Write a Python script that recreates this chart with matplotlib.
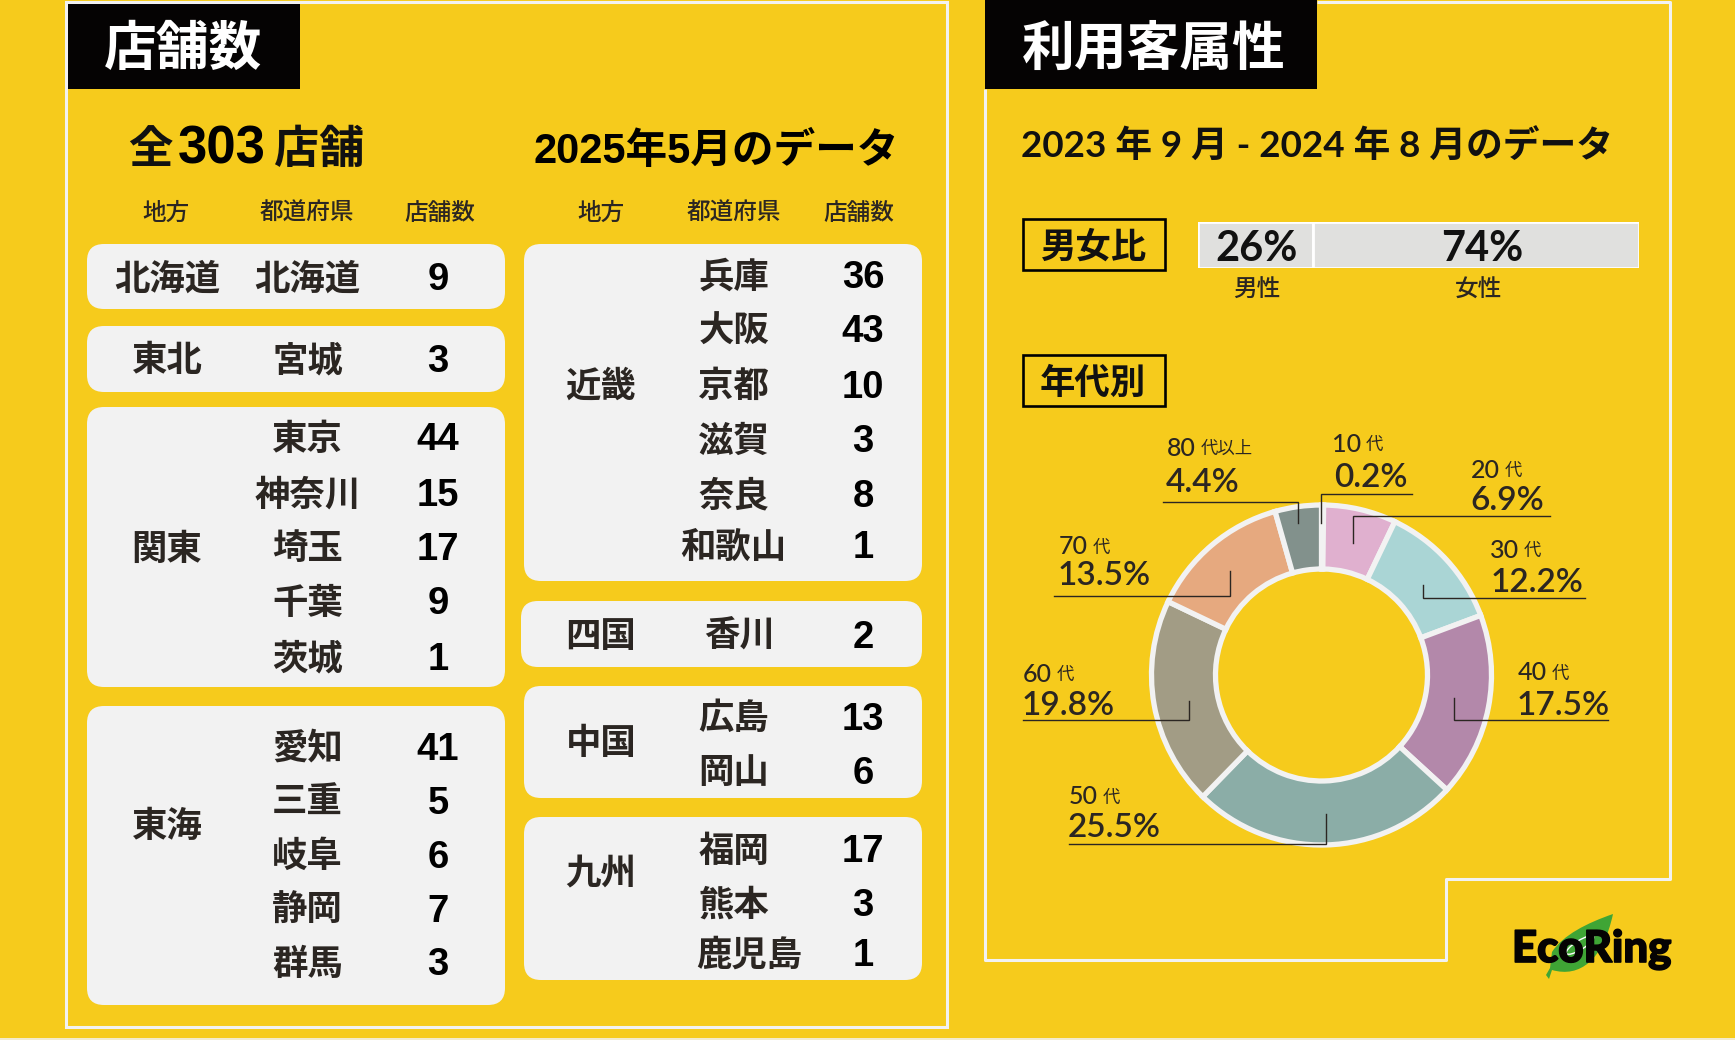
import matplotlib
matplotlib.use('Agg')
import matplotlib.pyplot as plt
import matplotlib.patheffects as pe
from matplotlib.patches import FancyBboxPatch, Rectangle, PathPatch, Ellipse
from matplotlib.path import Path

W, H = 1735, 1040
YELLOW = '#F6CB1C'
CARD = '#F2F2F2'
INK = '#2B2622'
JP = ['Noto Sans CJK JP', 'DejaVu Sans']
ARIAL = ['Liberation Sans', 'Noto Sans CJK JP']
GEO = ['Lato', 'Noto Sans CJK JP']

# data
regions_left = ['北海道', '東北', '関東', '東海']
prefs_left = ['北海道', '宮城', '東京', '神奈川', '埼玉', '千葉', '茨城',
              '愛知', '三重', '岐阜', '静岡', '群馬']
stores_left = [9, 3, 44, 15, 17, 9, 1, 41, 5, 6, 7, 3]

regions_right = ['近畿', '四国', '中国', '九州']
prefs_right = ['兵庫', '大阪', '京都', '滋賀', '奈良', '和歌山', '香川',
               '広島', '岡山', '福岡', '熊本', '鹿児島']
stores_right = [36, 43, 10, 3, 8, 1, 2, 13, 6, 17, 3, 1]

table_heads = ['地方', '都道府県', '店舗数']

gender_labels = ['男性', '女性']
gender_share = [26, 74]

age_labels = ['10', '20', '30', '40', '50', '60', '70', '80']
age_suffix = ['代', '代', '代', '代', '代', '代', '代', '代以上']
age_share = [0.2, 6.9, 12.2, 17.5, 25.5, 19.8, 13.5, 4.4]
age_colors = ['#F2F2F2', '#E0B0CF', '#AAD5D5', '#B388AA', '#8BADA7', '#A29C85', '#E6A97F', '#82918C']

# layout, in picture pixels
row_y_left = [279.5, 361, 439.5, 495, 549, 603.5, 658.5, 748.5, 802.5, 856.5, 910.5, 964]
row_y_right = [277, 331, 386.5, 441.5, 496, 547, 636.5, 718.5, 772.5, 851, 905.5, 955]
pref_x_right = [733.6] * 6 + [740] + [733.6] * 4 + [749]
region_y_left = [279.5, 361, 549, 826.5]
region_y_right = [386.5, 636.5, 743.5, 873.5]
cards_left = [(244, 309), (326, 392), (407, 687), (706, 1005)]
cards_right = [(244, 581), (601, 667), (686, 798), (817, 980)]

# (number x, number y, percent x, percent y)
age_text_pos = [(1332, 444, 1334, 478), (1471, 470, 1470, 501), (1490, 550, 1491, 583),
                (1518, 673, 1517, 706), (1069, 797, 1068, 828), (1023, 674, 1022, 706),
                (1059, 547, 1058, 576), (1167, 448, 1166, 483)]
# leader: far x, elbow x, horizontal y, end y
leaders = [(1412, 1320.6, 494, 523), (1550, 1353, 516, 543), (1585, 1423, 598, 585),
           (1608, 1454, 720, 698), (1069, 1326, 844, 814), (1023, 1189, 720, 701),
           (1054, 1230, 596, 571), (1163, 1298, 502, 523)]

fig = plt.figure(figsize=(W / 100, H / 100), dpi=100, facecolor=YELLOW)


def px_axes(x0, y0, x1, y1, z):
    a = fig.add_axes([x0 / W, 1 - y1 / H, (x1 - x0) / W, (y1 - y0) / H], zorder=z)
    a.set_facecolor('none')
    return a


ax = fig.add_axes([0, 0, 1, 1], zorder=2)
ax.set_xlim(0, W)
ax.set_ylim(H, 0)
ax.axis('off')

# panel outlines
ax.add_patch(Rectangle((66, 2), 881, 1025, fill=False, ec=CARD, lw=2.2))
ax.plot([985, 985, 1446, 1446, 1670, 1670, 1317], [89, 960, 960, 879, 879, 2, 2], color=CARD, lw=2.2,
        solid_capstyle='butt')
ax.plot([0, W], [1039, 1039], color=CARD, lw=1.2)
ax.add_patch(Rectangle((68, 4), 232, 85, color='#050303', lw=0))
ax.add_patch(Rectangle((985, 0), 332, 89, color='#050303', lw=0))
ax.text(183, 49, '店舗数', color='white', fontsize=38, fontweight='bold', family=JP, ha='center', va='center')
ax.text(1154, 49, '利用客属性', color='white', fontsize=38, fontweight='bold', family=JP, ha='center', va='center')

# headline left
ax.text(150, 150, '全', fontsize=32, fontweight='bold', family=JP, ha='center', va='center', color='#111')
ax.text(222, 150, '303', fontsize=38, fontweight='bold', family=ARIAL, ha='center', va='center', color='black')
ax.text(319, 150, '店舗', fontsize=32.5, fontweight='bold', family=JP, ha='center', va='center', color='#111')
ax.text(716, 152, '2025年5月のデータ', fontsize=30, fontweight='bold', family=ARIAL, ha='center', va='center', color='black')

# table heads
for x, s in zip([166, 306.5, 440], table_heads):
    ax.text(x, 213.5, s, fontsize=17, fontweight='medium', family=JP, ha='center', va='center', color=INK)
for x, s in zip([601, 733.6, 859], table_heads):
    ax.text(x, 213.5, s, fontsize=17, fontweight='medium', family=JP, ha='center', va='center', color=INK)

# cards
for y0, y1 in cards_left:
    ax.add_patch(FancyBboxPatch((87, y0), 418, y1 - y0, boxstyle='round,pad=0,rounding_size=17', fc=CARD, ec='none'))
for i, (y0, y1) in enumerate(cards_right):
    x0 = 521 if i == 1 else 524
    ax.add_patch(FancyBboxPatch((x0, y0), 922 - x0, y1 - y0, boxstyle='round,pad=0,rounding_size=17', fc=CARD, ec='none'))

# rows
for s, y in zip(regions_left, region_y_left):
    ax.text(167, y, s, fontsize=25.5, fontweight='bold', family=JP, ha='center', va='center', color=INK)
for s, y in zip(regions_right, region_y_right):
    ax.text(601, y, s, fontsize=25.5, fontweight='bold', family=JP, ha='center', va='center', color=INK)
for s, n, y in zip(prefs_left, stores_left, row_y_left):
    ax.text(307.6, y, s, fontsize=25.5, fontweight='bold', family=JP, ha='center', va='center', color=INK)
    ax.text(438, y + 1, str(n), fontsize=27.5, fontweight='bold', family=ARIAL, ha='center', va='center', color='black')
for s, n, x, y in zip(prefs_right, stores_right, pref_x_right, row_y_right):
    ax.text(x, y, s, fontsize=25.5, fontweight='bold', family=JP, ha='center', va='center', color=INK)
    ax.text(863, y + 1, str(n), fontsize=27.5, fontweight='bold', family=ARIAL, ha='center', va='center', color='black')

# right panel
ax.text(1317, 146, '2023 年 9 月 - 2024 年 8 月のデータ', fontsize=26.5, fontweight='bold', family=GEO,
        ha='center', va='center', color='#111')
for y0, s in zip([219, 355], ['男女比', '年代別']):
    ax.add_patch(Rectangle((1022.5, y0), 142.5, 51, fill=False, ec='black', lw=1.9))
    ax.text(1093, y0 + 28, s, fontsize=25.5, fontweight='bold', family=JP, ha='center', va='center', color='#111')

# gender bar
bar = px_axes(1198, 222, 1638.5, 268, 1)
bar.barh([0], [gender_share[0]], height=1, color='#E0E0DE', edgecolor='white', lw=2)
bar.barh([0], [gender_share[1]], left=[gender_share[0]], height=1, color='#E0E0DE', edgecolor='white', lw=2)
bar.set_xlim(0, 100)
bar.set_ylim(-0.5, 0.5)
bar.axis('off')
ax.text(1257, 249, f'{gender_share[0]}%', fontsize=30, fontweight='bold', family=GEO, ha='center', va='center', color='#111')
ax.text(1482, 249, f'{gender_share[1]}%', fontsize=30, fontweight='bold', family=GEO, ha='center', va='center', color='#111')
ax.text(1257, 290, gender_labels[0], fontsize=17, fontweight='medium', family=JP, ha='center', va='center', color=INK)
ax.text(1478, 290, gender_labels[1], fontsize=17, fontweight='medium', family=JP, ha='center', va='center', color=INK)

# donut
R = 170
pie_ax = px_axes(1321.5 - 180, 675 - 180, 1321.5 + 180, 675 + 180, 1)
pie_ax.pie(age_share, colors=age_colors, startangle=90, counterclock=False, radius=1,
           wedgeprops=dict(width=64 / R, edgecolor=CARD, linewidth=3.8))
pie_ax.set_xlim(-180 / R, 180 / R)
pie_ax.set_ylim(-180 / R, 180 / R)

renderer = fig.canvas.get_renderer()
for num, suf, share, pos, ld in zip(age_labels, age_suffix, age_share, age_text_pos, leaders):
    t = ax.text(pos[0], pos[1], num, fontsize=18, fontweight='medium', family=GEO, ha='left', va='center', color=INK)
    x1 = ax.transData.inverted().transform(t.get_window_extent(renderer))[1][0]
    ax.text(x1 + 5, pos[1] + 1, suf, fontsize=12.5, family=JP, ha='left', va='center', color=INK)
    ax.text(pos[2], pos[3], f'{share}%', fontsize=24, fontweight='semibold', family=GEO, ha='left', va='center', color=INK)
    ax.plot([ld[0], ld[1], ld[1]], [ld[2], ld[2], ld[3]], color=INK, lw=1.0, solid_joinstyle='miter')

# logo
leaf = [(1613, 914), (1587, 923), (1563, 935), (1552, 952), (1550, 968), (1546, 975), (1549, 979), (1552, 970),
        (1580, 978), (1603, 960), (1613, 914)]
codes = [Path.MOVETO, Path.CURVE4, Path.CURVE4, Path.CURVE4, Path.LINETO, Path.LINETO, Path.LINETO, Path.LINETO,
         Path.CURVE4, Path.CURVE4, Path.CURVE4]
ax.add_patch(PathPatch(Path(leaf, codes), fc='#3FA535', ec='none'))
ax.add_patch(Ellipse((1580, 945), 32, 9, angle=-32, fc='none', ec='white', lw=1))
ax.text(1512, 962, 'EcoRing', fontsize=31.5, fontweight='black', family=GEO, ha='left', va='baseline', color='#050303',
        path_effects=[pe.withStroke(linewidth=1.2, foreground='#050303')])

fig.savefig('out.png', dpi=100, facecolor=YELLOW)
